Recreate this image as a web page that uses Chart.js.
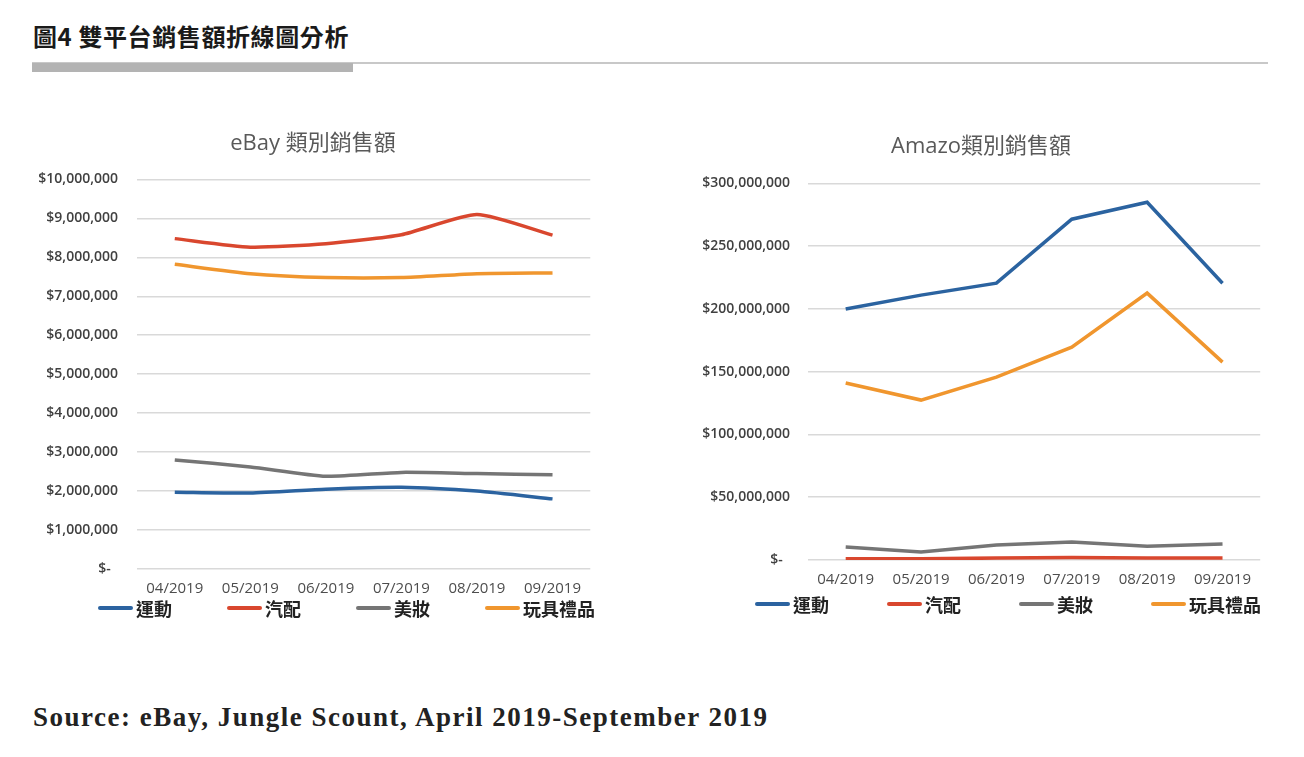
<!DOCTYPE html>
<html lang="zh-Hant">
<head>
<meta charset="utf-8">
<title>圖4 雙平台銷售額折線圖分析</title>
<script src="https://cdn.jsdelivr.net/npm/chart.js@4.4.1/dist/chart.umd.min.js"></script>
<style>
    html, body { margin: 0; padding: 0; background: #fff; }
    body { width: 1304px; height: 757px; position: relative; overflow: hidden; }
    .page-title {
        position: absolute; left: 33px; top: 18px; margin: 0;
        font: 700 24px "Noto Sans CJK TC", "Liberation Serif", serif; color: #1a1a1a;
        letter-spacing: 0.6px;
    }
    .rule { position: absolute; left: 32px; top: 62px; width: 1236px; height: 2px; background: #c8c8c8; }
    .rule-bar { position: absolute; left: 32px; top: 63px; width: 321px; height: 9px; background: #b3b3b3; }
    .chart-box { position: absolute; }
    .chart-box canvas { display: block; }
    .legend {
        position: absolute; display: flex; align-items: center; margin: 0; padding: 0; list-style: none;
        font: 700 18px "Noto Sans CJK TC", serif; color: #222;
    }
    .legend li { display: flex; align-items: center; }
    .legend .swatch { display: inline-block; width: 35px; height: 4px; margin-right: 3px; border-radius: 2px; }
    .source {
        position: absolute; left: 33px; top: 702px; margin: 0;
        font: 700 27px "Liberation Serif", serif; color: #222; letter-spacing: 1.5px;
    }
</style>
</head>
<body>
<h1 class="page-title">圖4 雙平台銷售額折線圖分析</h1>
<div class="rule"></div>
<div class="rule-bar"></div>

<div class="chart-box" style="left:34px; top:120px; width:558px; height:489px;">
    <canvas id="ebayChart"></canvas>
</div>
<ul class="legend" id="ebayLegend" style="left:98px; top:595px; gap:55px;"></ul>

<div class="chart-box" style="left:700px; top:120px; width:562px; height:480px;">
    <canvas id="amazonChart"></canvas>
</div>
<ul class="legend" id="amazonLegend" style="left:755px; top:591px; gap:58px;"></ul>

<p class="source">Source: eBay, Jungle Scount, April 2019-September 2019</p>

<script>
// Data
const months = ['04/2019', '05/2019', '06/2019', '07/2019', '08/2019', '09/2019'];
const categories = ['運動', '汽配', '美妝', '玩具禮品'];
const seriesColors = ['#2b63a0', '#d9472e', '#757575', '#f0962e'];

// eBay (USD)
const ebaySports = [1970000, 1950000, 2050000, 2100000, 2000000, 1800000];
const ebayAuto = [8480000, 8260000, 8350000, 8580000, 9100000, 8570000];
const ebayBeauty = [2800000, 2620000, 2380000, 2480000, 2450000, 2420000];
const ebayToys = [7820000, 7580000, 7480000, 7480000, 7580000, 7600000];
const ebayTicks = { max: 10000000, step: 1000000 };

// Amazon (USD)
const amazonSports = [200000000, 211000000, 220500000, 271500000, 285000000, 220500000];
const amazonAuto = [1000000, 1000000, 1500000, 2000000, 1500000, 1500000];
const amazonBeauty = [10400000, 6400000, 12000000, 14300000, 11000000, 12700000];
const amazonToys = [141000000, 127400000, 145700000, 169600000, 212600000, 157600000];
const amazonTicks = { max: 300000000, step: 50000000 };

const axisFont = "'Open Sans', 'Noto Sans CJK TC', sans-serif";

function moneyLabel(value) {
    if (value === 0) return '$-  ';
    return '$' + value.toLocaleString('en-US');
}

// HTML legend built from the chart's own legend items
function htmlLegend(listId) {
    return {
        id: 'htmlLegend',
        afterUpdate(chart) {
            const ul = document.getElementById(listId);
            ul.innerHTML = '';
            const items = chart.options.plugins.legend.labels.generateLabels(chart);
            items.forEach(item => {
                const li = document.createElement('li');
                const sw = document.createElement('span');
                sw.className = 'swatch';
                sw.style.background = item.strokeStyle;
                const txt = document.createElement('span');
                txt.textContent = item.text;
                li.appendChild(sw);
                li.appendChild(txt);
                ul.appendChild(li);
            });
        }
    };
}

function buildChart(canvasId, legendId, title, series, ticks, opts) {
    const ctx = document.getElementById(canvasId);
    return new Chart(ctx, {
        type: 'line',
        data: {
            labels: months,
            datasets: series.map((data, i) => ({
                label: categories[i],
                data: data,
                borderColor: seriesColors[i],
                backgroundColor: seriesColors[i],
                borderWidth: 3.5,
                tension: opts.tension,
                pointRadius: 0,
                pointHoverRadius: 0,
                fill: false
            }))
        },
        options: {
            responsive: true,
            maintainAspectRatio: false,
            animation: false,
            layout: { padding: 0 },
            plugins: {
                legend: { display: false },
                tooltip: { enabled: false },
                title: {
                    display: true,
                    text: title,
                    color: '#595959',
                    font: { family: axisFont, size: 22, weight: 'normal' },
                    padding: { top: opts.titleTop, bottom: opts.titleBottom }
                }
            },
            scales: {
                x: {
                    offset: true,
                    grid: { display: false, drawTicks: false },
                    border: { display: false },
                    ticks: {
                        color: '#4d4d4d',
                        font: { family: axisFont, size: 15 },
                        padding: 11,
                        maxRotation: 0
                    }
                },
                y: {
                    min: 0,
                    max: ticks.max,
                    afterFit(scale) { scale.width = opts.yWidth; },
                    grid: { color: '#d9d9d9', lineWidth: 1.5, drawTicks: false },
                    border: { display: false },
                    ticks: {
                        stepSize: ticks.step,
                        color: '#404040',
                        font: { family: axisFont, size: 14, weight: '600' },
                        padding: opts.yPad,
                        callback: moneyLabel
                    }
                }
            }
        },
        plugins: [htmlLegend(legendId)]
    });
}

buildChart('ebayChart', 'ebayLegend', 'eBay 類別銷售額',
    [ebaySports, ebayAuto, ebayBeauty, ebayToys], ebayTicks,
    { tension: 0.2, titleTop: 11, titleBottom: 22, yWidth: 103, yPad: 19 });

buildChart('amazonChart', 'amazonLegend', 'Amazo類別銷售額',
    [amazonSports, amazonAuto, amazonBeauty, amazonToys], amazonTicks,
    { tension: 0, titleTop: 14, titleBottom: 23, yWidth: 108, yPad: 18 });
</script>
</body>
</html>
